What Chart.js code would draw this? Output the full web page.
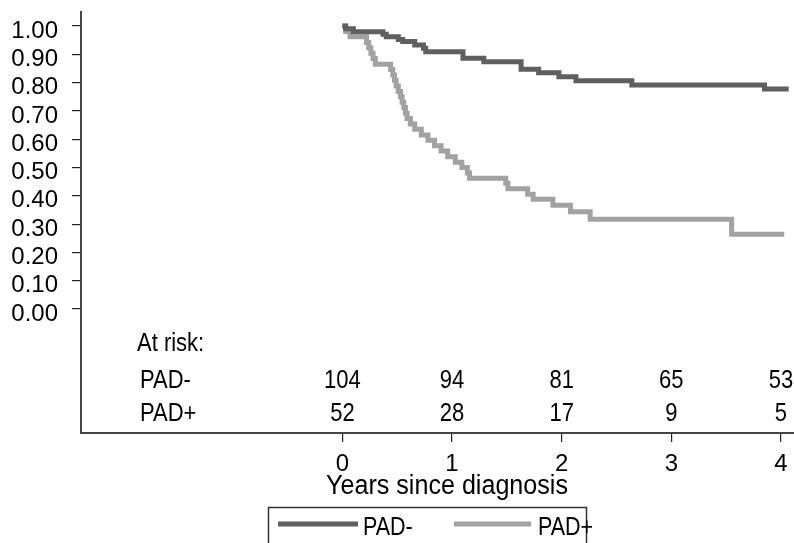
<!DOCTYPE html>
<html>
<head>
<meta charset="utf-8">
<script src="https://cdn.jsdelivr.net/npm/chart.js@4.4.1/dist/chart.umd.min.js"></script>
<style>
  html, body { margin: 0; padding: 0; background: #fff; }
  #wrap { width: 794px; height: 543px; position: relative; }
</style>
</head>
<body>
<div id="wrap"><canvas id="km"></canvas></div>
<script>
// ---------------- données ----------------
const yearsNeg = [0, 0.03, 0.10, 0.37, 0.40, 0.51, 0.55, 0.66, 0.74, 0.76, 1.10, 1.29, 1.63, 1.79, 1.975, 2.13, 2.64, 3.85, 4.07];
const survNeg  = [1.0, 0.990, 0.980, 0.971, 0.962, 0.952, 0.945, 0.933, 0.921, 0.909, 0.886, 0.874, 0.847, 0.835, 0.821, 0.807, 0.792, 0.777, 0.777];

const yearsPos = [0, 0.03, 0.07, 0.22, 0.24, 0.26, 0.28, 0.30, 0.44, 0.46, 0.475, 0.49, 0.51, 0.53, 0.545, 0.56, 0.575, 0.59, 0.62, 0.66, 0.72, 0.78, 0.84, 0.90, 0.96, 1.03, 1.09, 1.14, 1.16, 1.49, 1.51, 1.69, 1.74, 1.92, 2.08, 2.26, 3.55, 4.03];
const survPos  = [1.0, 0.981, 0.962, 0.942, 0.923, 0.904, 0.885, 0.865, 0.846, 0.827, 0.808, 0.788, 0.769, 0.750, 0.731, 0.712, 0.692, 0.673, 0.654, 0.635, 0.615, 0.596, 0.577, 0.558, 0.538, 0.519, 0.500, 0.481, 0.462, 0.444, 0.425, 0.406, 0.388, 0.367, 0.344, 0.317, 0.264, 0.264];

const riskYears = [0, 1, 2, 3, 4];
const riskNeg = [104, 94, 81, 65, 53];
const riskPos = [52, 28, 17, 9, 5];
const yTicks = [0, 0.1, 0.2, 0.3, 0.4, 0.5, 0.6, 0.7, 0.8, 0.9, 1.0];

const couleurNeg = '#5f5f5f';
const couleurPos = '#a2a2a2';
const police = '"Liberation Sans", Arial, sans-serif';

function toPoints(xs, ys) {
    return xs.map((x, i) => ({ x: x, y: ys[i] }));
}

// texte un peu "étroit" comme sur l'original
function texte(c, str, x, y, align, taille, serre) {
    c.save();
    c.font = taille + 'px ' + police;
    c.textAlign = align;
    c.textBaseline = 'middle';
    c.translate(x, y);
    c.scale(serre, 1);
    c.fillText(str, 0, 0);
    c.restore();
}

//---------------------------tableau "At risk", titre et légende---------------------------------
const extras = {
    id: 'extras',
    afterDraw(chart) {
        const c = chart.ctx;
        const xs = chart.scales.x;
        c.save();
        c.fillStyle = '#000';
        texte(c, 'At risk:', 137, 344, 'left', 25, 0.88);
        texte(c, 'PAD-', 140, 381, 'left', 25, 0.88);
        texte(c, 'PAD+', 140, 414, 'left', 25, 0.88);
        riskYears.forEach((t, i) => {
            const px = xs.getPixelForValue(t);
            texte(c, String(riskNeg[i]), px, 381, 'center', 25, 0.88);
            texte(c, String(riskPos[i]), px, 414, 'center', 25, 0.88);
        });

        // titre axe x
        texte(c, 'Years since diagnosis', 447, 487, 'center', 27, 0.93);

        // légende (coupée en bas)
        c.strokeStyle = '#333';
        c.lineWidth = 1.5;
        c.strokeRect(268.5, 507.5, 318, 60);
        c.lineWidth = 5;
        c.strokeStyle = couleurNeg;
        c.beginPath(); c.moveTo(278, 524); c.lineTo(358, 524); c.stroke();
        c.strokeStyle = couleurPos;
        c.beginPath(); c.moveTo(454, 524); c.lineTo(531, 524); c.stroke();
        texte(c, 'PAD-', 363, 528, 'left', 25, 0.86);
        texte(c, 'PAD+', 538, 528, 'left', 25, 0.86);
        c.restore();
    }
};

const ctx = document.getElementById('km').getContext('2d');

new Chart(ctx, {
    type: 'line',
    plugins: [extras],
    data: {
        datasets: [
            {
                label: 'PAD-',
                data: toPoints(yearsNeg, survNeg),
                borderColor: couleurNeg,
                borderWidth: 5,
                pointRadius: 0,
                stepped: 'before',
                fill: false
            },
            {
                label: 'PAD+',
                data: toPoints(yearsPos, survPos),
                borderColor: couleurPos,
                borderWidth: 5,
                pointRadius: 0,
                stepped: 'before',
                fill: false
            }
        ]
    },
    options: {
        responsive: true,
        maintainAspectRatio: false,
        animation: false,
        layout: { padding: { top: 12, left: 0, right: 0, bottom: 0 } },
        plugins: {
            legend: { display: false },
            tooltip: { enabled: false }
        },
        scales: {
            x: {
                type: 'linear',
                min: -2.384,
                max: 4.119,
                afterBuildTicks: s => { s.ticks = riskYears.map(v => ({ value: v })); },
                afterFit: s => { s.height = 110; s.paddingLeft = 0; s.paddingRight = 0; },
                grid: { display: true, drawOnChartArea: false, drawTicks: true, tickLength: 9, color: '#222', lineWidth: 1.2 },
                border: { display: true, color: '#444', width: 2 },
                ticks: {
                    color: '#000',
                    padding: 8,
                    maxRotation: 0,
                    font: { family: police, size: 24 },
                    callback: v => String(v)
                }
            },
            y: {
                type: 'linear',
                min: -0.438,
                max: 1.0495,
                afterBuildTicks: s => { s.ticks = yTicks.map(v => ({ value: v })); },
                afterFit: s => { s.width = 81; s.paddingTop = 0; s.paddingBottom = 0; },
                grid: { display: true, drawOnChartArea: false, drawTicks: true, tickLength: 9, color: '#222', lineWidth: 1.2 },
                border: { display: true, color: '#444', width: 2 },
                ticks: {
                    color: '#000',
                    padding: 14,
                    labelOffset: 5,
                    font: { family: police, size: 24 },
                    callback: v => v.toFixed(2)
                }
            }
        }
    }
});
</script>
</body>
</html>
